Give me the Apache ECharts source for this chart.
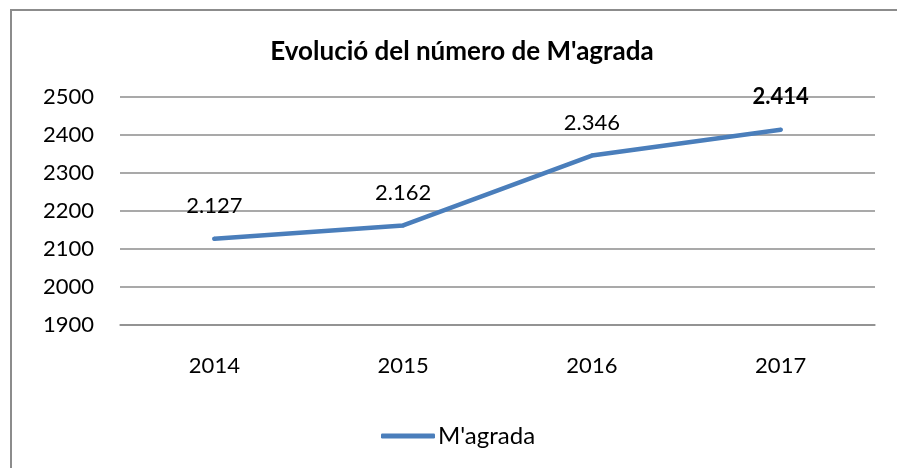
<!DOCTYPE html>
<html>
<head>
<meta charset="utf-8">
<script src="https://cdn.jsdelivr.net/npm/echarts@6/dist/echarts.min.js"></script>
<style>
  html, body { margin: 0; padding: 0; background: #fff; }
  .frame {
    position: absolute; left: 10px; top: 9px; width: 900px; height: 470px;
    border-top: 2px solid #8c8c8c; border-left: 2px solid #8c8c8c;
  }
  #chart { position: absolute; left: 0; top: 0; width: 897px; height: 468px; }
</style>
</head>
<body>
<div class="frame"></div>
<div id="chart"></div>
<script>
  const years = ["2014", "2015", "2016", "2017"];
  const likes = [2127, 2162, 2346, 2414];
  const seriesName = "M'agrada";
  const titleText = "Evolució del número de M'agrada";

  const fontFamily = "Lato, 'Open Sans', sans-serif";
  const gridColor = "#8c8c8c";
  const lineColor = "#4a7ebb";

  // number shown with a dot as thousands separator, like 2.127
  function fmt(v) {
    return Math.floor(v / 1000) + "." + String(v % 1000).padStart(3, "0");
  }

  const chart = echarts.init(document.getElementById("chart"));
  chart.setOption({
    animation: false,
    title: {
      text: titleText,
      left: 457,
      top: 34,
      textAlign: "center",
      textStyle: { fontFamily, fontSize: 26, fontWeight: "bold", color: "#000" },
    },
    legend: {
      data: [seriesName],
      bottom: 20,
      left: 381,
      padding: 0,
      icon: "roundRect",
      itemWidth: 54,
      itemHeight: 5,
      itemGap: 3,
      itemStyle: { color: lineColor },
      textStyle: { fontFamily, fontSize: 24, color: "#000", padding: [0, 0, 0, -2] },
    },
    grid: { left: 120, right: 22, top: 97, bottom: 143, containLabel: false },
    xAxis: {
      type: "category",
      data: years,
      boundaryGap: true,
      axisLine: { lineStyle: { color: gridColor, width: 1.5 } },
      axisTick: { show: false },
      axisLabel: { fontFamily, fontSize: 22, color: "#000", margin: 30 },
    },
    yAxis: {
      type: "value",
      min: 1900,
      max: 2500,
      interval: 100,
      axisLine: { show: false },
      axisTick: { show: false },
      axisLabel: {
        fontFamily, fontSize: 22, color: "#000", margin: 26,
        formatter: (v) => String(v),
      },
      splitLine: { lineStyle: { color: gridColor, width: 1.5 } },
    },
    series: [
      {
        name: seriesName,
        type: "line",
        data: likes.map((v, i) =>
          i === likes.length - 1 ? { value: v, label: { fontWeight: "bold" } } : v
        ),
        // tiny symbol hidden under the line, only there to carry the labels
        symbol: "circle",
        symbolSize: 4,
        showSymbol: true,
        itemStyle: { color: lineColor, borderWidth: 0 },
        lineStyle: { color: lineColor, width: 4.5, cap: "round", join: "round" },
        label: {
          show: true,
          position: "top",
          distance: 20,
          fontFamily,
          fontSize: 22,
          color: "#000",
          formatter: (p) => fmt(p.value),
        },
      },
    ],
  });
</script>
</body>
</html>
